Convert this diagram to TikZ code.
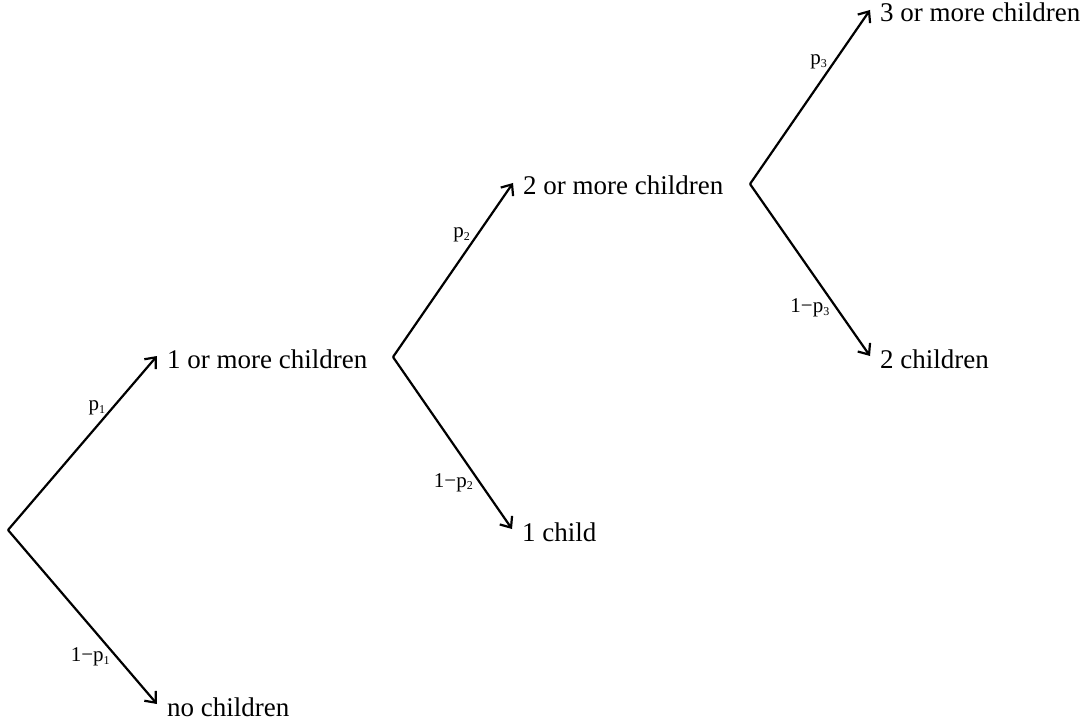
\documentclass[tikz,border=0pt]{standalone}
\usepackage{fontspec}
\setmainfont{Liberation Serif}
\usetikzlibrary{arrows.meta}
\newcommand\probsub[1]{\raisebox{-2.5pt}{\fontsize{12}{12}\selectfont #1}}
\begin{document}
\begin{tikzpicture}[x=1pt,y=1pt,
  outcome/.style={anchor=west, inner xsep=10pt, inner ysep=0pt, text height=24pt, text depth=0pt, font=\fontsize{27}{32}\selectfont},
  branch/.style={line width=2.2pt, line join=miter, -{Straight Barb[length=9pt,width=15pt]}},
  prob/.style={font=\fontsize{21}{22}\selectfont, inner sep=6pt}]
\useasboundingbox (0,0) rectangle (1091,721);
% branching points
\coordinate (A) at (8,191);
\coordinate (B) at (393,364);
\coordinate (C) at (750,537);
% outcomes
\node[outcome] (one) at (157,365) {1 or more children};
\node[outcome] (none) at (157,17) {no children};
\node[outcome] (two) at (513,538) {2 or more children};
\node[outcome] (onech) at (512,192) {1 child};
\node[outcome] (three) at (870,711) {3 or more children};
\node[outcome] (twoch) at (870,365) {2 children};
% branches
\draw[branch] (A) -- node[prob, pos=0.7, left] {p\probsub{1}} (one.west);
\draw[branch] (A) -- node[prob, pos=0.73, left] {1−p\probsub{1}} (none.west);
\draw[branch] (B) -- node[prob, pos=0.7, left] {p\probsub{2}} (two.west);
\draw[branch] (B) -- node[prob, pos=0.73, left] {1−p\probsub{2}} (onech.west);
\draw[branch] (C) -- node[prob, pos=0.7, left] {p\probsub{3}} (three.west);
\draw[branch] (C) -- node[prob, pos=0.72, left] {1−p\probsub{3}} (twoch.west);
\end{tikzpicture}
\end{document}
